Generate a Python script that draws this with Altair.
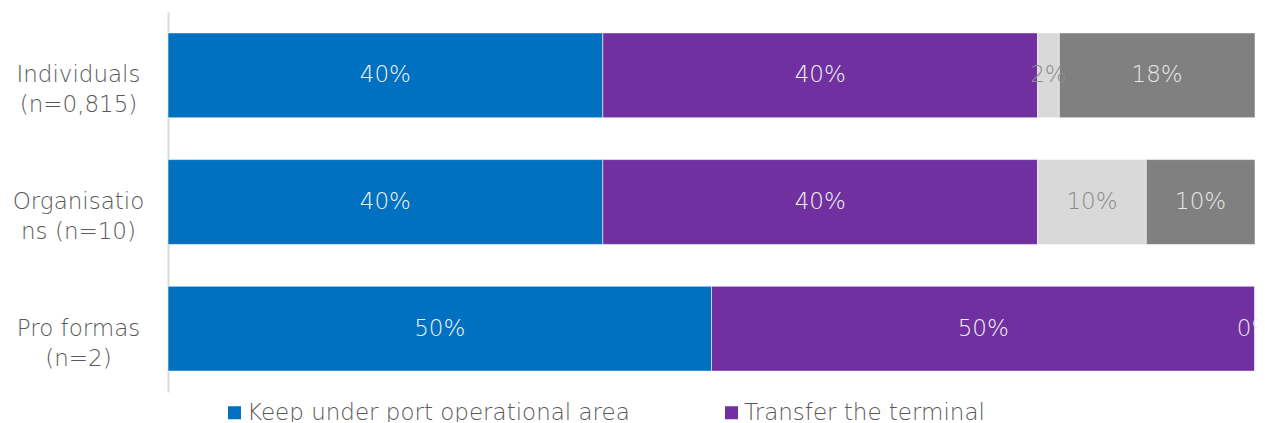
import altair as alt
import pandas as pd

categories = ["Individuals|(n=0,815)", "Organisatio|ns (n=10)", "Pro formas|(n=2)"]
series = ["Keep under port operational area", "Transfer the terminal", "Don't know", "No response"]
colors = ["#0070C0", "#7030A0", "#D9D9D9", "#808080"]
label_colors = ["#F2F2F2", "#F2F2F2", "#8C8C8C", "#E6E6E6"]

keep = [40, 40, 50]
transfer = [40, 40, 50]
dont_know = [2, 10, 0]
no_response = [18, 10, 0]

rows = []
for si, vals in enumerate([keep, transfer, dont_know, no_response]):
    for ci, cat in enumerate(categories):
        rows.append({"category": cat, "series": series[si], "value": vals[ci],
                     "order": si, "lcolor": label_colors[si]})
df = pd.DataFrame(rows)

FONT = "DejaVu Sans"
WEIGHT = 200
FS = 23

base = alt.Chart(df).transform_stack(
    stack="value", groupby=["category"], as_=["x0", "x1"],
    sort=[alt.SortField("order", order="ascending")]
).transform_calculate(
    mid="(datum.x0 + datum.x1) / 2",
    lab="format(datum.value / 100, '.0%')"
)

y = alt.Y("category:N", sort=categories, title=None,
          scale=alt.Scale(paddingInner=0.33, paddingOuter=0.165),
          axis=alt.Axis(labelExpr="split(datum.label, '|')", labelAlign="center",
                        labelBaseline="middle", labelPadding=90, labelFontSize=FS,
                        labelFont=FONT, labelFontWeight=WEIGHT, labelColor="#595959",
                        labelLineHeight=30, ticks=False, domainColor="#D9D9D9",
                        domainWidth=2, labelLimit=300))

xscale = alt.Scale(domain=[0, 100], nice=False, zero=True)

bars = base.mark_bar(stroke="#FFFFFF", strokeWidth=0.8, strokeOpacity=0.7).encode(
    y=y,
    x=alt.X("x0:Q", scale=xscale, axis=None),
    x2="x1:Q",
    color=alt.Color("series:N", scale=alt.Scale(domain=series, range=colors),
                    legend=alt.Legend(values=series[:2], title=None, orient="none",
                                      legendX=55, legendY=389, direction="horizontal",
                                      columns=2, gridAlign="all", columnPadding=90,
                                      symbolType="square", symbolSize=169,
                                      symbolStrokeWidth=0, labelFontSize=FS,
                                      labelFont=FONT, labelFontWeight=WEIGHT,
                                      labelColor="#595959", labelOffset=1,
                                      labelLimit=600)),
)

texts = base.transform_filter(
    "!(datum.value == 0 && datum.order == 2)"
).mark_text(font=FONT, fontSize=FS, fontWeight=WEIGHT, align="center", baseline="middle").encode(
    y=alt.Y("category:N", sort=categories),
    x=alt.X("mid:Q", scale=xscale),
    text="lab:N",
    color=alt.Color("lcolor:N", scale=None),
)

chart = alt.layer(bars, texts).properties(
    width=1087, height=380,
    autosize=alt.AutoSizeParams(type="none"),
    padding={"left": 160, "top": 4, "right": 2, "bottom": 30},
).configure_view(stroke=None)

chart.save("out.html", embed_options={"renderer": "svg", "actions": False})
